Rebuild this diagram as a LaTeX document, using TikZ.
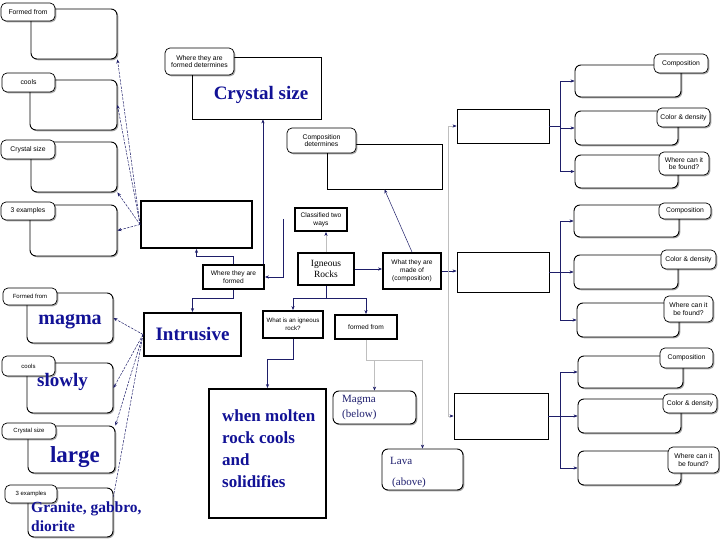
\documentclass[tikz,border=0pt]{standalone}
\usepackage{fontspec}
\setmainfont{Liberation Serif}
\newfontfamily\lblfont{Liberation Sans}
\usetikzlibrary{arrows.meta,shadows,calc}
\definecolor{navy}{RGB}{30,30,105}
\definecolor{txtblue}{RGB}{18,18,150}
\definecolor{txtdark}{RGB}{30,30,110}
\newcommand\mkbox[7]{\node[#2,minimum width={(#5-#3)*1pt},minimum height={(#6-#4)*1pt}] (#1) at ({(#3+#5)/2},{(#4+#6)/2}) {#7};}
\begin{document}
\begin{tikzpicture}[x=1pt,y=-1pt,
  shd/.style={drop shadow={shadow xshift=1.3pt,shadow yshift=-1.3pt,fill=black,opacity=0.35}},
  lbl/.style={draw,rounded corners=5pt,line width=0.7pt,fill=white,shd,font=\lblfont\fontsize{6.8}{7.8}\selectfont,align=center,inner sep=0.5pt},
  bodyr/.style={draw,rounded corners=6pt,line width=0.9pt,fill=white,shd,inner sep=0pt},
  plainbox/.style={draw,line width=0.9pt,fill=white,shd,inner sep=0pt},
  thickbox/.style={draw,line width=1.9pt,fill=white,shd,inner sep=0.5pt,align=center,font=\lblfont\fontsize{6.6}{8}\selectfont},
  con/.style={draw=navy,line width=0.5pt,-{Stealth[length=4pt,width=3.2pt]}},
  faintcon/.style={draw=gray!50,line width=0.5pt,-{Stealth[length=4pt,width=3.2pt,color=navy]}},
  fan/.style={con,dash pattern=on 2.5pt off 1.2pt},
  bigtxt/.style={text=txtblue,font=\bfseries\fontsize{19}{22}\selectfont,inner sep=0pt},
  smalltxt/.style={text=txtdark,font=\fontsize{11}{15}\selectfont,inner sep=0pt,align=left}]
\useasboundingbox (0,0) rectangle (720,540);

% left top column
\mkbox{ltb1}{bodyr}{31}{9}{117}{59}{}
\mkbox{ltl1}{lbl}{1}{3}{55}{21}{Formed from}
\mkbox{ltb2}{bodyr}{30}{80}{117}{130}{}
\mkbox{ltl2}{lbl}{2}{73}{55}{92}{cools}
\mkbox{ltb3}{bodyr}{31}{142}{117}{192}{}
\mkbox{ltl3}{lbl}{1}{140}{55}{159}{Crystal size}
\mkbox{ltb4}{bodyr}{30}{205}{117}{256}{}
\mkbox{ltl4}{lbl}{1}{202}{55}{220}{3 examples}

% left bottom column
\mkbox{lbb1}{bodyr}{27}{293}{113}{343}{}
\mkbox{lbl1}{lbl,font=\lblfont\fontsize{6}{7}\selectfont}{3}{288}{57}{305}{Formed from}
\mkbox{lbb2}{bodyr}{27}{363}{113}{413}{}
\mkbox{lbl2}{lbl,font=\lblfont\fontsize{6}{7}\selectfont}{2}{356}{55}{376}{cools}
\mkbox{lbb3}{bodyr}{28}{426}{115}{473}{}
\mkbox{lbl3}{lbl,font=\lblfont\fontsize{6}{7}\selectfont}{2}{423}{56}{439}{Crystal size}
\mkbox{lbb4}{bodyr}{28}{488}{113}{537}{}
\mkbox{lbl4}{lbl,font=\lblfont\fontsize{6}{7}\selectfont}{5}{485}{57}{503}{3 examples}

% centre
\mkbox{ext}{thickbox}{141}{201}{252}{248}{}
\mkbox{intr}{thickbox,text=txtblue,font=\bfseries\fontsize{19}{22}\selectfont}{144}{313}{241}{356}{Intrusive}
\mkbox{csb}{plainbox}{192}{57}{321}{119}{}
\mkbox{csl}{lbl}{165}{48}{234}{75}{Where they are\\formed determines}
\mkbox{cdb}{plainbox}{327}{144}{442}{189}{}
\mkbox{cdl}{lbl}{287}{128}{356}{153}{Composition\\determines}
\mkbox{cls}{thickbox}{295}{208}{347}{231}{Classified two\\ways}
\mkbox{ign}{thickbox,font=\fontsize{9.5}{11.5}\selectfont}{298}{253}{354}{285}{Igneous\\Rocks}
\mkbox{what}{thickbox}{383}{253}{441}{289}{What they are\\made of\\(composition)}
\mkbox{where}{thickbox}{203}{265}{264}{289}{Where they are\\formed}
\mkbox{wig}{thickbox,font=\lblfont\fontsize{6.2}{8}\selectfont}{263}{311}{323}{338}{What is an igneous\\rock?}
\mkbox{ffm}{thickbox}{335}{315}{397}{339}{formed from}
\mkbox{wmb}{thickbox}{209}{389}{326}{518}{}
\mkbox{mag}{bodyr}{333}{391}{416}{424}{}
\mkbox{lav}{bodyr}{382}{449}{463}{490}{}

% middle right
\mkbox{m1}{plainbox}{457}{109}{549}{143}{}
\mkbox{m2}{plainbox}{457}{252}{549}{292}{}
\mkbox{m3}{plainbox}{454}{393}{548}{439}{}

% right column
\mkbox{r1}{bodyr}{575}{65}{681}{97}{}
\mkbox{rl1}{lbl}{654}{54}{708}{73}{Composition}
\mkbox{r2}{bodyr}{575}{111}{678}{145}{}
\mkbox{rl2}{lbl}{657}{108}{710}{127}{Color \& density}
\mkbox{r3}{bodyr}{575}{155}{678}{188}{}
\mkbox{rl3}{lbl}{659}{152}{709}{175}{Where can it\\be found?}
\mkbox{r4}{bodyr}{574}{205}{679}{237}{}
\mkbox{rl4}{lbl}{659}{203}{711}{219}{Composition}
\mkbox{r5}{bodyr}{574}{255}{678}{289}{}
\mkbox{rl5}{lbl}{661}{250}{716}{269}{Color \& density}
\mkbox{r6}{bodyr}{577}{303}{679}{337}{}
\mkbox{rl6}{lbl}{664}{296}{713}{322}{Where can it\\be found?}
\mkbox{r7}{bodyr}{578}{356}{683}{388}{}
\mkbox{rl7}{lbl}{660}{348}{713}{368}{Composition}
\mkbox{r8}{bodyr}{578}{399}{681}{433}{}
\mkbox{rl8}{lbl}{663}{394}{717}{413}{Color \& density}
\mkbox{r9}{bodyr}{578}{451}{681}{485}{}
\mkbox{rl9}{lbl}{668}{447}{719}{473}{Where can it\\be found?}

% texts
\node[bigtxt] (tcs) at (261,95) {Crystal size};
\node[bigtxt,font=\bfseries\fontsize{20}{22}\selectfont] (tmag) at (70,322) {magma};
\node[bigtxt,anchor=west] (tslow) at (37,382) {slowly};
\node[bigtxt,font=\bfseries\fontsize{23}{26}\selectfont] (tlarge) at (75,457) {large};
\node[bigtxt,font=\bfseries\fontsize{15.5}{19}\selectfont,anchor=west,align=left] (tgran) at (31,517) {Granite, gabbro,\\diorite};
\node[bigtxt,font=\bfseries\fontsize{17}{22}\selectfont,anchor=west,align=left] (twm) at (222,449) {when molten\\rock cools\\and\\solidifies};
\node[smalltxt,anchor=west] (tmg) at (342,408) {Magma\\(below)};
\node[smalltxt,anchor=west] (tlv) at (390,461) {Lava};
\node[smalltxt,anchor=west] (tab) at (392,483) {(above)};

% fans
\foreach \t in {ltb1.south east,ltb2.east,ltb3.south east,ltb4.east}
  \draw[fan] (ext.west) -- (\t);
\foreach \t in {lbb1.east,lbb2.east,lbb3.north east}
  \draw[fan] (intr.west) -- (\t);
\draw[fan,-] (intr.west) -- ($(lbb4.north east)!0.18!(lbb4.south east)$);

% centre connectors
\coordinate (wne) at ([xshift=-2pt]where.north east);
\draw[con] (wne) -- (wne |- csb.south);
\draw[con] (where.north) -- ++(0,-8) -| (ext.south);
\coordinate (f1) at (283,219);
\draw[con] (f1) |- (where.east);
\draw[con] (where.south) -- ++(0,8) -| (intr.north);
\draw[faintcon] (ign.north) -- (ign.north |- cls.south);
\draw[con] (ign.east) -- (ign.east -| what.west);
\draw[con] (what.north) -- (cdb.south);
\draw[con] (what.east) -- (what.east -| m2.west);
\coordinate (wj) at ([xshift=6pt]what.east);
\draw[faintcon] (wj) |- (m1.west);
\draw[faintcon] (wj) |- (m3.west);
\draw[con] (ign.south) -- ++(0,12) -| (wig.north);
\draw[con] (ign.south) -- ++(0,12) -| (ffm.north);
\draw[con] (wig.south) -- ++(0,20) -| (wmb.north);
\draw[faintcon] (ffm.south) -- ++(0,20) -| (mag.north);
\draw[faintcon] (ffm.south) -- ++(0,20) -| (lav.north);

% right forks
\coordinate (j1) at ([xshift=11pt]m1.east);
\draw[navy,line width=0.6pt] (m1.east) -- (j1);
\foreach \r in {r1,r2,r3} \draw[con] (j1) |- (\r.west);
\coordinate (j2) at ([xshift=11pt]m2.east);
\draw[navy,line width=0.6pt] (m2.east) -- (j2);
\foreach \r in {r4,r5,r6} \draw[con] (j2) |- (\r.west);
\coordinate (j3) at ([xshift=12pt]m3.east);
\draw[navy,line width=0.6pt] (m3.east) -- (j3);
\foreach \r in {r7,r8,r9} \draw[con] (j3) |- (\r.west);
\end{tikzpicture}
\end{document}
